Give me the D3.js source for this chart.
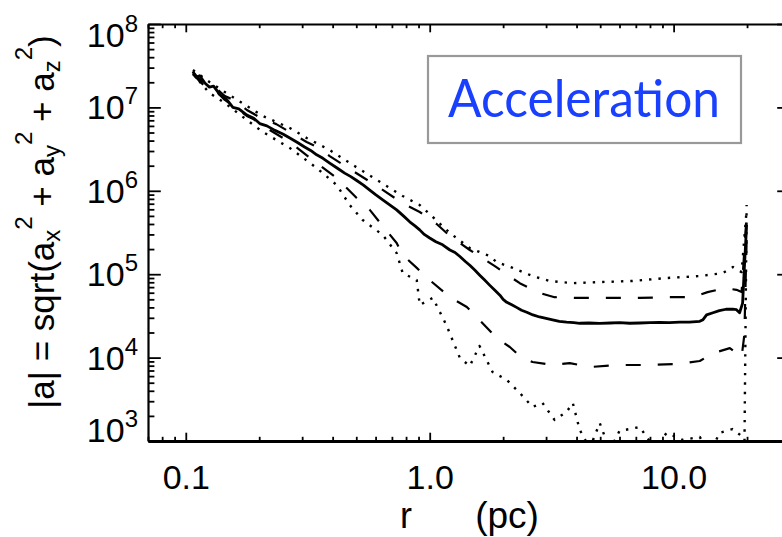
<!DOCTYPE html>
<html><head><meta charset="utf-8">
<script src="https://cdn.jsdelivr.net/npm/d3@7"></script>
<style>body{margin:0;background:#fff}svg{display:block}</style>
</head><body><svg id="c" width="782" height="537"></svg>
<script>
// ---------------- data ----------------
const xTickValues = [0.1, 1, 10];
const xTickLabels = ["0.1", "1.0", "10.0"];
const yTickExponents = [3, 4, 5, 6, 7, 8];
const legendLabel = "Acceleration";

// median |a| (solid)
const medianA = [[0.107,2.7e7],[0.110,2.3e7],[0.114,2.4e7],[0.12,1.95e7],[0.125,1.75e7],[0.13,1.8e7],[0.138,1.42e7],[0.147,1.25e7],[0.156,1.0e7],[0.165,9.6e6],[0.178,8.1e6],[0.19,7.4e6],[0.201,6.4e6],[0.215,6.0e6],[0.232,5.3e6],[0.25,4.8e6],[0.267,4.3e6],[0.287,3.8e6],[0.307,3.35e6],[0.325,3.05e6],[0.344,2.7e6],[0.365,2.45e6],[0.389,2.15e6],[0.42,1.85e6],[0.448,1.63e6],[0.475,1.48e6],[0.502,1.33e6],[0.535,1.17e6],[0.568,1.02e6],[0.6,9.0e5],[0.642,7.8e5],[0.69,6.7e5],[0.732,5.9e5],[0.78,5.0e5],[0.828,4.25e5],[0.87,3.8e5],[0.91,3.4e5],[0.95,3.0e5],[1.0,2.72e5],[1.06,2.45e5],[1.13,2.25e5],[1.21,1.95e5],[1.27,1.82e5],[1.33,1.63e5],[1.4,1.42e5],[1.46,1.28e5],[1.53,1.12e5],[1.6,9.8e4],[1.68,8.5e4],[1.76,7.4e4],[1.85,6.4e4],[1.94,5.6e4],[2.0,5.0e4],[2.07,4.6e4],[2.17,4.3e4],[2.27,4.0e4],[2.38,3.7e4],[2.5,3.5e4],[2.65,3.25e4],[2.82,3.07e4],[3.0,2.95e4],[3.19,2.83e4],[3.4,2.72e4],[3.64,2.66e4],[3.9,2.62e4],[4.12,2.58e4],[4.5,2.6e4],[4.98,2.57e4],[5.5,2.6e4],[6.0,2.62e4],[6.6,2.58e4],[7.26,2.6e4],[8.0,2.63e4],[8.76,2.64e4],[9.6,2.63e4],[10.6,2.66e4],[11.6,2.67e4],[12.8,2.72e4],[13.2,2.85e4],[13.65,3.25e4],[14.5,3.45e4],[15.4,3.65e4],[16.4,3.8e4],[17.45,3.82e4],[18.1,3.75e4],[18.64,3.45e4],[19.18,4.5e4],[19.5,1.2e5],[19.92,3.9e5]];

// upper dashed
const upperDashedA = [[0.107,2.66e7],[0.115,2.1e7],[0.125,1.81e7],[0.133,1.7e7],[0.1445,1.37e7],[0.16,1.2e7],[0.178,9.31e6],[0.207,7.26e6],[0.235,6.3e6],[0.267,5.07e6],[0.313,3.85e6],[0.35,3.3e6],[0.389,2.61e6],[0.484,1.73e6],[0.607,1.14e6],[0.775,7.1e5],[0.91,5.57e5],[1.068,4.0e5],[1.21,2.87e5],[1.46,1.95e5],[1.85,1.25e5],[2.34,7.8e4],[2.82,5.96e4],[3.25,5.3e4],[3.93,5.2e4],[4.98,5.2e4],[7.26,5.2e4],[9.63,5.3e4],[11.96,5.3e4],[13.78,6.1e4],[16.18,6.8e4],[18.1,6.5e4],[19.0,6.1e4],[19.92,5.1e5]];

// upper dotted
const upperDottedA = [[0.107,2.81e7],[0.125,2.02e7],[0.1445,1.53e7],[0.178,1.04e7],[0.207,7.89e6],[0.267,5.66e6],[0.313,4.3e6],[0.389,3.08e6],[0.484,2.04e6],[0.607,1.35e6],[0.775,8.66e5],[0.91,6.75e5],[1.03,4.85e5],[1.21,3.12e5],[1.46,2.06e5],[1.76,1.65e5],[1.88,1.40e5],[2.19,1.19e5],[2.64,9.5e4],[3.10,8.29e4],[3.86,7.8e4],[4.98,8.05e4],[6.79,8.29e4],[9.36,9.0e4],[12.8,9.5e4],[15.9,1.03e5],[17.5,1.22e5],[19.0,1.06e5],[19.92,5.9e5]];

// lower dashed
const lowerDashedA = [[0.107,2.52e7],[0.115,2.0e7],[0.125,1.62e7],[0.135,1.5e7],[0.1445,1.23e7],[0.178,7.89e6],[0.19,7.2e6],[0.207,5.98e6],[0.267,3.85e6],[0.344,2.15e6],[0.416,1.42e6],[0.502,8.2e5],[0.568,5.9e5],[0.642,3.78e5],[0.732,2.37e5],[0.775,1.70e5],[0.885,1.19e5],[1.0,8.5e4],[1.21,5.3e4],[1.42,4.05e4],[1.6,2.83e4],[1.88,1.72e4],[2.13,1.34e4],[2.34,1.045e4],[2.64,8.85e3],[3.19,8.15e3],[3.75,8.6e3],[4.53,7.7e3],[5.84,8.15e3],[7.75,8.15e3],[10.3,8.38e3],[12.8,9.1e3],[14.5,1.13e4],[17.0,1.30e4],[18.1,1.13e4],[19.0,1.02e4],[19.5,1.87e4],[19.92,2.57e5]];

// lower dotted
const lowerDottedA = [[0.107,2.52e7],[0.125,1.49e7],[0.1445,1.13e7],[0.178,7.06e6],[0.207,5.07e6],[0.267,3.26e6],[0.344,1.88e6],[0.416,1.17e6],[0.47,6.75e5],[0.531,4.47e5],[0.642,2.95e5],[0.732,1.79e5],[0.775,1.03e5],[0.885,8.5e4],[0.91,4.27e4],[1.03,5.2e4],[1.17,2.46e4],[1.33,9.9e3],[1.46,7.93e3],[1.6,1.38e4],[1.81,6.72e3],[2.07,5.4e3],[2.34,3.77e3],[2.64,2.56e3],[2.9,2.86e3],[3.25,1.79e3],[3.64,2.23e3],[3.86,2.86e3],[4.12,1.36e3],[4.53,820],[4.98,1.64e3],[5.47,780],[6.0,1.32e3],[7.26,1.47e3],[8.36,820],[9.36,1.25e3],[10.9,1.03e3],[12.8,1.12e3],[14.05,680],[15.4,1.25e3],[17.45,1.39e3],[19.2,1.12e3],[19.5,680],[19.92,6.75e5]];

// ---------------- drawing ----------------
const svg = d3.select("#c");
const FONT = "'Liberation Sans', Arial, Helvetica, sans-serif";
const L = 148, R = 790, T = 24, B = 441;
const x = d3.scaleLog().domain([0.07, 30]).range([L, R]);
const y = d3.scaleLog().domain([1e3, 1e8]).range([B, T]);

svg.append("rect").attr("width", 782).attr("height", 537).attr("fill", "#fff");

svg.append("defs").append("clipPath").attr("id", "plot")
  .append("rect").attr("x", L).attr("y", T).attr("width", R - L).attr("height", B - T);

const line = d3.line().x(d => x(d[0])).y(d => y(d[1]));
const lines = svg.append("g").attr("clip-path", "url(#plot)").attr("fill", "none").attr("stroke", "#000");
const series = [
  {d: lowerDottedA, w: 2.4, dash: "2.4,7"},
  {d: upperDottedA, w: 2.4, dash: "2.4,7"},
  {d: lowerDashedA, w: 2.2, dash: "15,17"},
  {d: upperDashedA, w: 2.2, dash: "15,17"},
  {d: medianA, w: 2.8, dash: null}
];
series.forEach(s => {
  lines.append("path").attr("d", line(s.d)).attr("stroke-width", s.w)
    .attr("stroke-dasharray", s.dash).attr("stroke-linejoin", "round");
});

// minor tick values
const xMinor = [], yMinor = [];
[0.01, 0.1, 1, 10].forEach(p => { for (let k = 2; k <= 9; k++) { const v = k * p; if (v >= 0.07 && v <= 30) xMinor.push(v); } });
for (let e = 3; e < 8; e++) for (let k = 2; k <= 9; k++) yMinor.push(k * Math.pow(10, e));
const yMajor = yTickExponents.map(e => Math.pow(10, e));

function styleAxis(g) {
  g.selectAll("path.domain").attr("stroke", "#000").attr("stroke-width", 2.2);
  g.selectAll(".tick line").attr("stroke", "#000").attr("stroke-width", 1.8);
}

// bottom axis
const gb = svg.append("g").attr("transform", `translate(0,${B})`)
  .call(d3.axisBottom(x).tickValues(xTickValues).tickSizeInner(-8.3).tickSizeOuter(0).tickPadding(24)
    .tickFormat((d, i) => xTickLabels[i]));
styleAxis(gb);
gb.selectAll("path.domain").attr("stroke-width", 3);
gb.selectAll("text").attr("font-family", FONT).attr("font-size", 34).attr("fill", "#000");
const gbm = svg.append("g").attr("transform", `translate(0,${B})`)
  .call(d3.axisBottom(x).tickValues(xMinor).tickSizeInner(-4.2).tickSizeOuter(0).tickFormat(""));
gbm.select("path.domain").remove(); styleAxis(gbm);

// top axis
const gt = svg.append("g").attr("transform", `translate(0,${T})`)
  .call(d3.axisTop(x).tickValues(xTickValues).tickSizeInner(-8.3).tickSizeOuter(0).tickFormat(""));
styleAxis(gt);
const gtm = svg.append("g").attr("transform", `translate(0,${T})`)
  .call(d3.axisTop(x).tickValues(xMinor).tickSizeInner(-4.2).tickSizeOuter(0).tickFormat(""));
gtm.select("path.domain").remove(); styleAxis(gtm);

// left axis
const gl = svg.append("g").attr("transform", `translate(${L},0)`)
  .call(d3.axisLeft(y).tickValues(yMajor).tickSizeInner(-12.8).tickSizeOuter(0).tickFormat(""));
styleAxis(gl);
const glm = svg.append("g").attr("transform", `translate(${L},0)`)
  .call(d3.axisLeft(y).tickValues(yMinor).tickSizeInner(-6.4).tickSizeOuter(0).tickFormat(""));
glm.select("path.domain").remove(); styleAxis(glm);

// right axis
const gr = svg.append("g").attr("transform", `translate(${R},0)`)
  .call(d3.axisRight(y).tickValues(yMajor).tickSizeInner(-12.8).tickSizeOuter(0).tickFormat(""));
styleAxis(gr);
const grm = svg.append("g").attr("transform", `translate(${R},0)`)
  .call(d3.axisRight(y).tickValues(yMinor).tickSizeInner(-6.4).tickSizeOuter(0).tickFormat(""));
grm.select("path.domain").remove(); styleAxis(grm);

// y tick labels 10^n
const yl = svg.append("g").attr("font-family", FONT).attr("fill", "#000");
yTickExponents.forEach((e, i) => {
  let base = y(Math.pow(10, e)) + 12;
  if (i === 0) base = B + 1;
  if (i === yTickExponents.length - 1) base = T + 23;
  const t = yl.append("text").attr("x", 138).attr("y", base).attr("text-anchor", "end").attr("font-size", 34);
  t.append("tspan").text("10");
  t.append("tspan").attr("dy", -15).attr("font-size", 24).text(String(e));
});

// x title
svg.append("text").attr("x", 406).attr("y", 528).attr("text-anchor", "middle")
  .attr("font-family", FONT).attr("font-size", 36).text("r");
svg.append("text").attr("x", 507).attr("y", 528).attr("text-anchor", "middle")
  .attr("font-family", FONT).attr("font-size", 37).text("(pc)");

// y title
const yt = svg.append("text").attr("transform", "translate(54,222) rotate(-90)")
  .attr("text-anchor", "middle").attr("font-family", FONT).attr("font-size", 35).attr("fill", "#000");
yt.append("tspan").text("|a| = sqrt(a");
["x", "y", "z"].forEach((c, i) => {
  yt.append("tspan").attr("dy", 6).attr("font-size", 24).text(c);
  yt.append("tspan").attr("dy", -28).attr("font-size", 24).text("2");
  yt.append("tspan").attr("dy", 22).text(i < 2 ? " + a" : ")");
});

// legend box
svg.append("rect").attr("x", 428).attr("y", 56).attr("width", 313).attr("height", 87)
  .attr("fill", "#fff").attr("stroke", "#999").attr("stroke-width", 2.2);
svg.append("text").attr("x", 584).attr("y", 117).attr("text-anchor", "middle")
  .attr("font-family", "Lato, 'Open Sans', sans-serif").attr("font-size", 52)
  .attr("textLength", 272).attr("lengthAdjust", "spacingAndGlyphs")
  .attr("fill", "#1a40ff").text(legendLabel);
</script></body></html>
